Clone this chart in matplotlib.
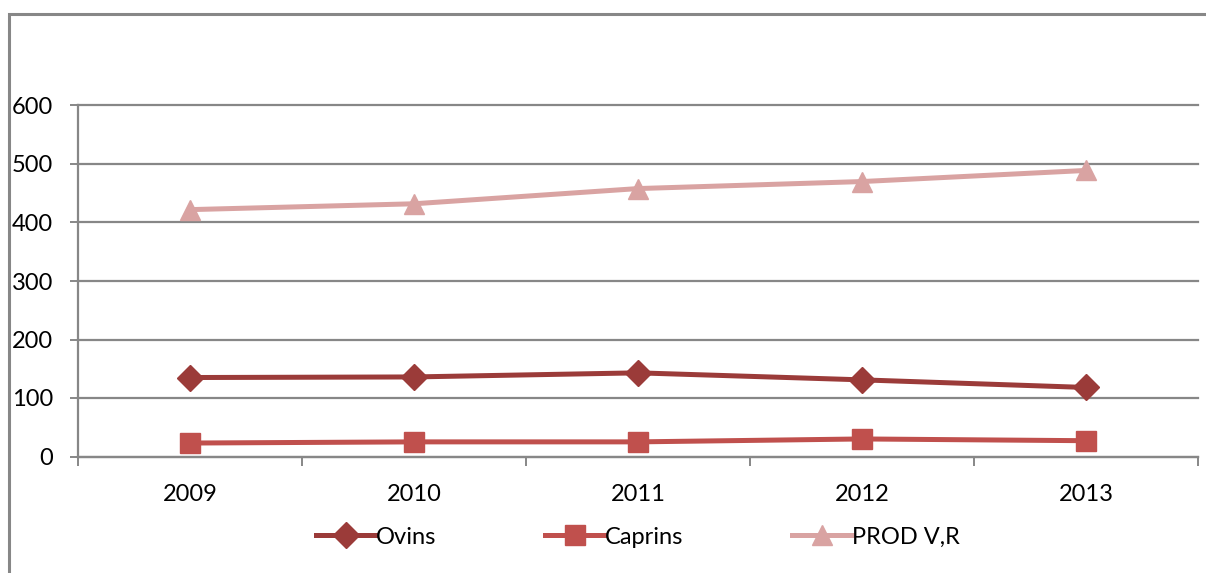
import matplotlib
matplotlib.use("Agg")
import matplotlib.pyplot as plt
from matplotlib.patches import Rectangle
from matplotlib.ticker import FixedLocator

plt.rcParams['font.family'] = ['Lato', 'DejaVu Sans']

years = ["2009", "2010", "2011", "2012", "2013"]
ovins = [135, 136, 143, 131, 118]
caprins = [23, 25, 25, 30, 27]
prod_vr = [422, 432, 458, 470, 489]

grey = "#878787"

fig = plt.figure(figsize=(12.06, 5.73), dpi=100)
ax = fig.add_axes([78 / 1206, 1 - 456.5 / 573, 1120 / 1206, 351 / 573])

# outer chart frame
fig.patches.append(Rectangle((9 / 1206, -0.05), 1.2, 1 - 14 / 573 + 0.05,
                             transform=fig.transFigure, fill=False,
                             edgecolor=grey, linewidth=2.2))

x = list(range(len(years)))
ax.plot(x, ovins, color="#9B3B39", lw=3.6, marker="D", ms=13, label="Ovins")
ax.plot(x, caprins, color="#C0504D", lw=3.6, marker="s", ms=15, label="Caprins")
ax.plot(x, prod_vr, color="#D9A3A2", lw=3.6, marker="^", ms=15, label="PROD V,R")

ax.set_xlim(-0.5, len(years) - 0.5)
ax.set_ylim(0, 600)
ax.set_yticks(range(0, 601, 100))
ax.set_xticks(x)
ax.set_xticklabels(years)
ax.xaxis.set_minor_locator(FixedLocator([i - 0.5 for i in range(len(years) + 1)]))

ax.grid(axis="y", color=grey, lw=1.6)
for gl in ax.yaxis.get_gridlines():
    gl.set_clip_on(False)
ax.set_axisbelow(True)
for s in ["top", "right"]:
    ax.spines[s].set_visible(False)
for s in ["left", "bottom"]:
    ax.spines[s].set_color(grey)
    ax.spines[s].set_linewidth(1.6)

ax.tick_params(axis="y", length=6, width=1.4, color=grey, pad=12, labelsize=17)
ax.tick_params(axis="x", which="major", length=0, pad=20, labelsize=17)
ax.tick_params(axis="x", which="minor", length=6.5, width=1.4, color=grey)

fig.legend(loc="center", bbox_to_anchor=(0.529, 1 - 537 / 573), ncol=3,
           frameon=False, fontsize=17, handlelength=2.55, handletextpad=0.0,
           columnspacing=4.6)

fig.savefig("out.png", dpi=100)
